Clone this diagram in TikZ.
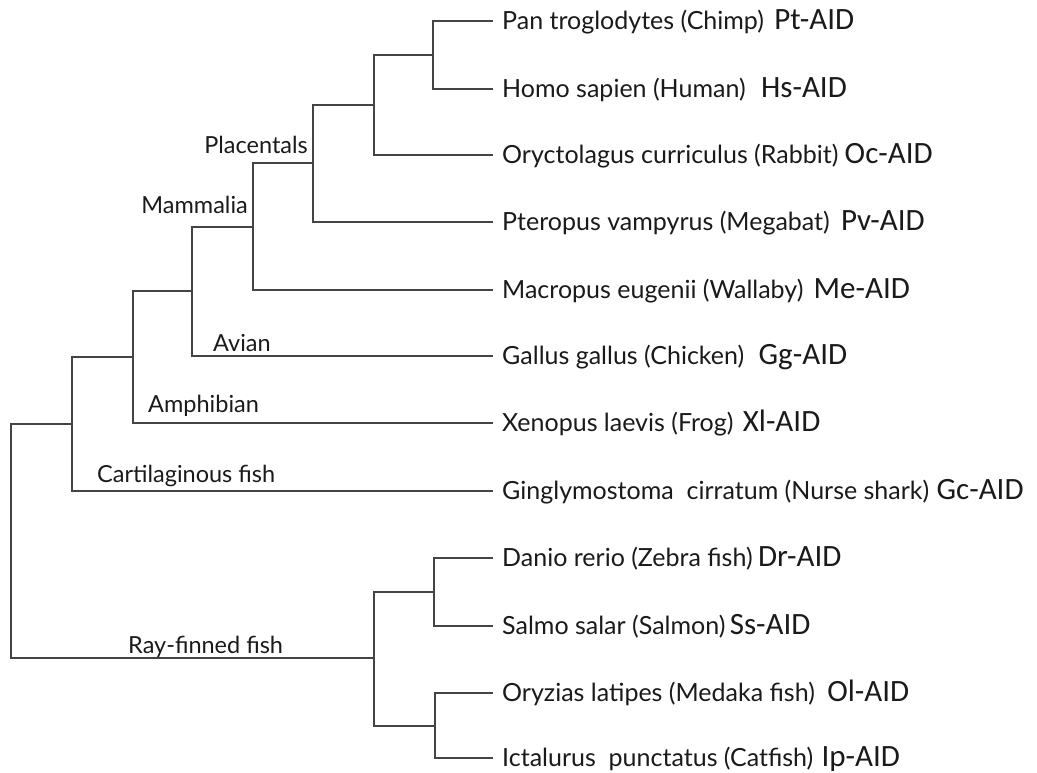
\documentclass[tikz,border=0pt]{standalone}
\usepackage{fontspec}
\setmainfont{Lato}
\newfontfamily\aidfont{Carlito}
\usetikzlibrary{positioning}
\definecolor{branch}{HTML}{444444}
\definecolor{ink}{HTML}{1A1A1A}

\begin{document}
\begin{tikzpicture}[x=1pt, y=-1pt,
      leaf/.style={anchor=west, inner sep=0pt, text height=20pt, text depth=4pt,
                   font=\fontsize{25}{29}\selectfont, text=ink},
      aid/.style={inner sep=0pt, text height=20pt, text depth=4pt,
                  font=\aidfont\fontsize{31}{35}\selectfont, text=ink},
      clade/.style={inner sep=0pt, font=\fontsize{23.5}{27}\selectfont, text=ink},
      br/.style={draw=branch, line width=2.2pt}]
    \useasboundingbox (0,0) rectangle (1037,772);
    % species
    \node[leaf] (pt) at (502,21) {Pan troglodytes (Chimp)};
    \node[leaf] (hs) at (502,89) {Homo sapien (Human)};
    \node[leaf] (oc) at (502,155) {Oryctolagus curriculus (Rabbit)};
    \node[leaf] (pv) at (502,222) {Pteropus vampyrus (Megabat)};
    \node[leaf] (me) at (502,290) {Macropus eugenii (Wallaby)};
    \node[leaf] (gg) at (502,356) {Gallus gallus (Chicken)};
    \node[leaf] (xl) at (502,423) {Xenopus laevis (Frog)};
    \node[leaf] (gc) at (502,491) {Ginglymostoma\ \ cirratum (Nurse shark)};
    \node[leaf] (dr) at (502,558) {Danio rerio (Zebra fish)};
    \node[leaf] (ss) at (502,626) {Salmo salar (Salmon)};
    \node[leaf] (ol) at (502,693) {Oryzias latipes (Medaka fish)};
    \node[leaf] (ip) at (502,758) {Ictalurus\ \ punctatus (Catfish)};
    % gene names
    \node[aid, right=10pt of pt] (ptaid) {Pt-AID};
    \node[aid, right=15pt of hs] (hsaid) {Hs-AID};
    \node[aid, right=6pt of oc] (ocaid) {Oc-AID};
    \node[aid, right=11pt of pv] (pvaid) {Pv-AID};
    \node[aid, right=10pt of me] (meaid) {Me-AID};
    \node[aid, right=14pt of gg] (ggaid) {Gg-AID};
    \node[aid, right=9pt of xl] (xlaid) {Xl-AID};
    \node[aid, right=7pt of gc] (gcaid) {Gc-AID};
    \node[aid, right=5pt of dr] (draid) {Dr-AID};
    \node[aid, right=4pt of ss] (ssaid) {Ss-AID};
    \node[aid, right=12pt of ol] (olaid) {Ol-AID};
    \node[aid, right=8pt of ip] (ipaid) {Ip-AID};
    % branch points
    \coordinate (hp) at (433,55);
    \coordinate (ohp) at (374,105);
    \coordinate (placentals) at (313,163);
    \coordinate (mammalia) at (253,227);
    \coordinate (amniota) at (192,291);
    \coordinate (tetrapoda) at (133,357);
    \coordinate (jawed) at (72,424);
    \coordinate (root) at (11,540);
    \coordinate (ds) at (434,592);
    \coordinate (oi) at (435,726);
    \coordinate (rayfin) at (374,658);
    \draw[br] ([xshift=-9pt]pt.west) -| (hp) |- ([xshift=-9pt]hs.west);
    \draw[br] (hp) -| (ohp) |- ([xshift=-9pt]oc.west);
    \draw[br] (ohp) -| (placentals) |- ([xshift=-9pt]pv.west);
    \draw[br] (placentals) -| (mammalia) |- ([xshift=-9pt]me.west);
    \draw[br] (mammalia) -| (amniota) |- ([xshift=-9pt]gg.west);
    \draw[br] (amniota) -| (tetrapoda) |- ([xshift=-9pt]xl.west);
    \draw[br] (tetrapoda) -| (jawed) |- ([xshift=-9pt]gc.west);
    \draw[br] ([xshift=-9pt]dr.west) -| (ds) |- ([xshift=-9pt]ss.west);
    \draw[br] ([xshift=-9pt]ol.west) -| (oi) |- ([xshift=-9pt]ip.west);
    \draw[br] (ds) -| (rayfin) |- (oi);
    \draw[br] (jawed) -| (root) |- (rayfin);
    % clade names
    \node[clade, anchor=base east] (lplac) at (308,153) {Placentals};
    \node[clade, anchor=base east] (lmamm) at (248,213) {Mammalia};
    \node[clade, anchor=base west] (lavian) at (213,351) {Avian};
    \node[clade, anchor=base west] (lamph) at (148,412) {Amphibian};
    \node[clade, anchor=base west] (lcart) at (97,482) {Cartilaginous fish};
    \node[clade, anchor=base west] (lray) at (128,653) {Ray-finned fish};
  \end{tikzpicture}
\end{document}
